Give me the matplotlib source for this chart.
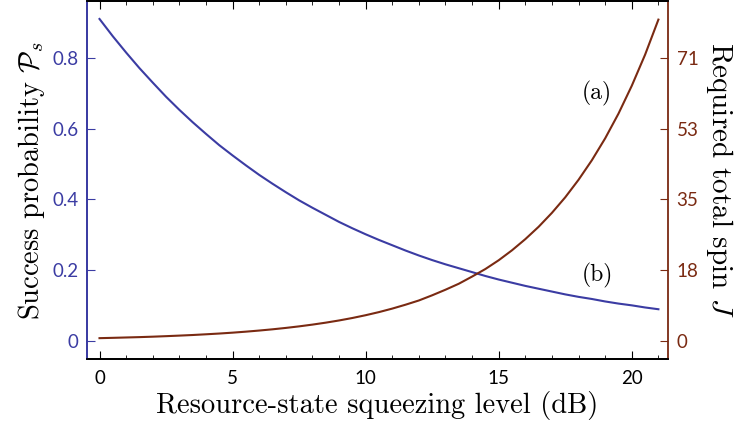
import matplotlib
matplotlib.use('Agg')
import matplotlib.pyplot as plt
import numpy as np

# squeezing level (dB), every half dB
db = [0, 0.5, 1, 1.5, 2, 2.5, 3, 3.5, 4, 4.5, 5, 5.5, 6, 6.5, 7, 7.5, 8, 8.5, 9, 9.5, 10,
      10.5, 11, 11.5, 12, 12.5, 13, 13.5, 14, 14.5, 15, 15.5, 16, 16.5, 17, 17.5, 18,
      18.5, 19, 19.5, 20, 20.5, 21]
# success probability P_s (blue curve)
p_success = [0.910, 0.861, 0.815, 0.771, 0.730, 0.690, 0.653, 0.618, 0.585, 0.553, 0.524,
             0.496, 0.469, 0.444, 0.420, 0.397, 0.376, 0.356, 0.336, 0.318, 0.301,
             0.285, 0.270, 0.255, 0.241, 0.228, 0.216, 0.205, 0.194, 0.183, 0.173,
             0.164, 0.155, 0.147, 0.139, 0.131, 0.124, 0.118, 0.111, 0.105, 0.100,
             0.094, 0.089]
# required total spin J (brown curve)
spin_j = [0.64, 0.72, 0.81, 0.90, 1.01, 1.14, 1.28, 1.43, 1.61, 1.80, 2.02,
          2.27, 2.55, 2.86, 3.21, 3.60, 4.04, 4.53, 5.08, 5.70, 6.40,
          7.18, 8.06, 9.04, 10.1, 11.4, 12.8, 14.3, 16.1, 18.0, 20.2,
          22.7, 25.5, 28.6, 32.1, 36.0, 40.4, 45.3, 50.8, 57.0, 64.0,
          71.8, 80.6]

left_ticks = [0, 0.2, 0.4, 0.6, 0.8]
left_labels = ['0', '0.2', '0.4', '0.6', '0.8']
right_labels = ['0', '18', '35', '53', '71']
j_scale = 71 / 0.8

blue = '#3b3ca3'
brown = '#7a2a12'

plt.rcParams['mathtext.fontset'] = 'cm'
tickfont = 'Lato'

fig = plt.figure(figsize=(7.5, 4.28), dpi=100)
ax1 = fig.add_axes([0.116, 0.161, 0.775, 0.836])
ax2 = ax1.twinx()

ax1.plot(db, p_success, color=blue, linewidth=1.5)
ax2.plot(db, spin_j, color=brown, linewidth=1.5)

ax1.set_xlim(-0.47, 21.37)
ax1.set_ylim(-0.052, 0.96)
ax2.set_ylim(-0.052 * j_scale, 0.96 * j_scale)

ax1.set_xticks([0, 5, 10, 15, 20])
ax1.set_xticks(np.arange(0, 22, 1), minor=True)
ax1.set_yticks(left_ticks)
ax1.set_yticklabels(left_labels)
ax2.set_yticks([t * j_scale for t in left_ticks])
ax2.set_yticklabels(right_labels)

ax1.tick_params(axis='x', which='both', direction='in', top=True, labelsize=13.5, pad=8)
ax1.tick_params(axis='x', which='major', length=6)
ax1.tick_params(axis='x', which='minor', length=3)
ax1.tick_params(axis='y', direction='in', length=6, colors=blue, labelsize=13.5, pad=6)
ax2.tick_params(axis='y', direction='in', length=6, colors=brown, labelsize=13.5, pad=6)
for lab in ax1.get_xticklabels() + ax1.get_yticklabels() + ax2.get_yticklabels():
    lab.set_family(tickfont)

ax1.spines['left'].set_color(blue)
ax2.spines['left'].set_color(blue)
ax2.spines['right'].set_color(brown)
ax1.spines['right'].set_visible(False)
for sp in ax1.spines.values():
    sp.set_linewidth(1.3)
for sp in ax2.spines.values():
    sp.set_linewidth(1.3)

ax1.set_xlabel('Resource-state squeezing level (dB)', family='cmr10', size=20.5, labelpad=3)
ax1.set_ylabel(r'Success probability $\mathcal{P}_s$', family='cmr10', size=20.5, labelpad=4)
ax2.set_ylabel(r'Required total spin $J$', family='cmr10', size=21, rotation=270, labelpad=26)

ax1.text(18.7, 0.70, '(a)', family='cmr10', size=17, ha='center', va='center')
ax1.text(18.7, 0.185, '(b)', family='cmr10', size=17, ha='center', va='center')

fig.savefig('out.png', dpi=100)
